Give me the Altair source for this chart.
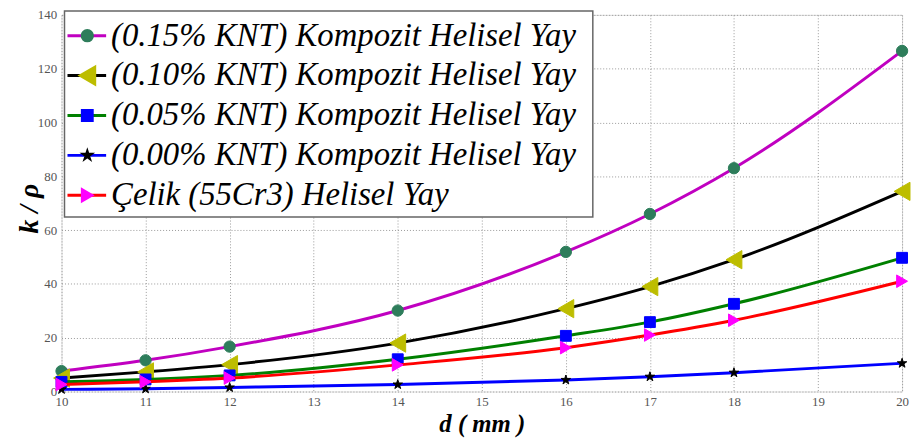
import altair as alt
import pandas as pd

d_mm = [10, 11, 12, 14, 16, 17, 18, 20]

names = [
    "(0.15% KNT) Kompozit Helisel Yay",
    "(0.10% KNT) Kompozit Helisel Yay",
    "(0.05% KNT) Kompozit Helisel Yay",
    "(0.00% KNT) Kompozit Helisel Yay",
    "Çelik (55Cr3) Helisel Yay",
]

knt015 = [7.6, 11.6, 16.7, 30.1, 51.9, 66.0, 83.0, 126.6]
knt010 = [5.0, 7.3, 10.0, 18.0, 30.8, 39.0, 49.0, 74.4]
knt005 = [3.6, 4.5, 6.0, 12.0, 20.7, 25.8, 32.6, 49.7]
knt000 = [0.8, 1.0, 1.5, 2.6, 4.3, 5.5, 7.0, 10.5]
celik = [2.6, 3.6, 5.0, 9.9, 16.3, 21.0, 26.5, 41.0]
values = [knt015, knt010, knt005, knt000, celik]

STAR = ("M0,-1L0.2245,-0.309L0.951,-0.309L0.363,0.118L0.588,0.809L0,0.382"
        "L-0.588,0.809L-0.363,0.118L-0.951,-0.309L-0.2245,-0.309Z")

line_colors = ["#c000c0", "#000000", "#008000", "#0000ff", "#ff0000"]
marker_fill = ["#2e7d5b", "#bdbd00", "#0000ff", "#000000", "#ff00ff"]
marker_shape = ["circle", "triangle-left", "square", STAR, "triangle-right"]
marker_size = [130, 340, 120, 100, 160]

xscale = alt.Scale(domain=[10, 20], nice=False)
yscale = alt.Scale(domain=[0, 140], nice=False)

label_font = "Liberation Sans Narrow"

xaxis = alt.Axis(values=list(range(10, 21)), title="d ( mm )", labelFont=label_font,
                 labelFontSize=13, labelColor="#555555", labelPadding=4,
                 titleFont="Liberation Serif", titleFontStyle="italic", titleFontWeight="bold",
                 titleFontSize=25, titleColor="#000000", titlePadding=3,
                 grid=True, gridDash=[1, 2], gridColor="#999999", ticks=False,
                 domain=False, labelFlush=False)
yaxis = alt.Axis(values=list(range(0, 141, 20)), title="k / ρ", labelFont=label_font,
                 labelFontSize=13, labelColor="#555555", labelPadding=5,
                 titleFont="Liberation Serif", titleFontStyle="italic", titleFontWeight="bold",
                 titleFontSize=28, titleColor="#000000", titleX=-32, titleY=195,
                 titleAlign="center", titleBaseline="middle", titleAngle=270,
                 grid=True, gridDash=[1, 2], gridColor="#999999", ticks=False,
                 domain=False, labelFlush=False)

data_layers = []
for i in range(len(names)):
    df = pd.DataFrame({"d": d_mm, "v": values[i]})
    x = alt.X("d:Q", scale=xscale, axis=xaxis)
    y = alt.Y("v:Q", scale=yscale, axis=yaxis)
    line = alt.Chart(df).mark_line(color=line_colors[i], strokeWidth=3, interpolate="monotone").encode(x=x, y=y)
    pts = alt.Chart(df).mark_point(shape=marker_shape[i], filled=True, fill=marker_fill[i],
                                   stroke=marker_fill[i], strokeWidth=1,
                                   size=marker_size[i], opacity=1).encode(x=x, y=y)
    data_layers.append(line)
    data_layers.append(pts)

data_layer = alt.layer(*data_layers)

# Legend (drawn as its own layer)
leg_df = pd.DataFrame({"rank": list(range(len(names))), "name": names})
rank_scale = alt.Scale(type="point", domain=list(range(len(names))), range=[21, 182], padding=0)

box = alt.Chart(pd.DataFrame({"a": [0]})).mark_rect(fill="white", stroke="#666666", strokeWidth=1.5).encode(
    x=alt.value(3), x2=alt.value(536), y=alt.value(-4), y2=alt.value(204))

leg_layers = [box]
for i in range(len(names)):
    one = leg_df.iloc[[i]]
    yy = alt.Y("rank:O", scale=rank_scale, axis=None)
    leg_layers.append(alt.Chart(one).mark_rule(color=line_colors[i], strokeWidth=3).encode(
        x=alt.value(6), x2=alt.value(45), y=yy))
    leg_layers.append(alt.Chart(one).mark_point(shape=marker_shape[i], filled=True, fill=marker_fill[i],
                                                stroke=marker_fill[i], size=marker_size[i], opacity=1).encode(
        x=alt.value(26), y=yy))
leg_layers.append(alt.Chart(leg_df).mark_text(align="left", baseline="middle", font="Liberation Serif",
                                              fontStyle="italic", fontSize=33, color="#000000").encode(
    x=alt.value(50), y=alt.Y("rank:O", scale=rank_scale, axis=None), text="name:N"))
legend_layer = alt.layer(*leg_layers)

chart = alt.layer(data_layer, legend_layer).resolve_scale(y="independent").properties(
    width=848, height=380,
    autosize=alt.AutoSizeParams(type="none"),
    padding={"left": 54, "top": 5, "right": 9, "bottom": 50},
).configure_view(stroke="#555555", strokeWidth=1.5).configure(background="white")

chart.save("out.html", embed_options={"renderer": "svg", "actions": False})
